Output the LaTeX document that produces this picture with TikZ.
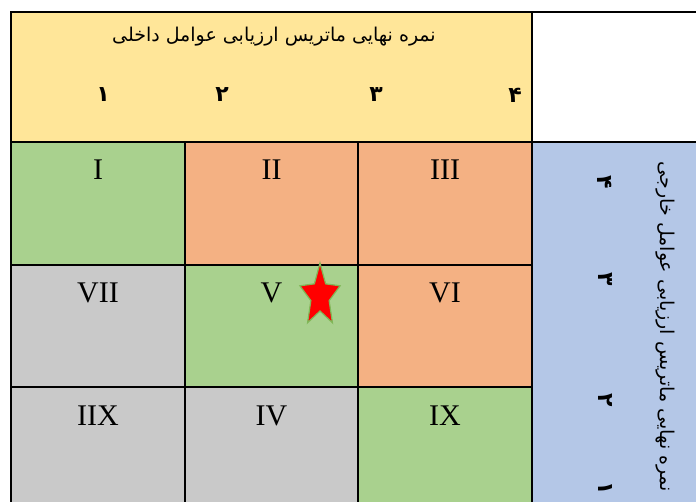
\documentclass[tikz,border=0pt]{standalone}
\usepackage{fontspec}
\setmainfont{Liberation Serif}
\newfontfamily\arabicfont[Script=Arabic]{DejaVu Sans}
\TeXXeTstate=1
\definecolor{cellgreen}{HTML}{A9D18E}
\definecolor{cellorange}{HTML}{F4B183}
\definecolor{cellgray}{HTML}{C9C9C9}
\definecolor{headyellow}{HTML}{FFE699}
\definecolor{sideblue}{HTML}{B4C7E7}
\definecolor{starline}{HTML}{7FB857}
\begin{document}
\begin{tikzpicture}[x=1pt,y=-1pt,
  cell/.style={draw=black,line width=2pt,inner sep=0pt},
  numeral/.style={font=\fontsize{30}{36}\selectfont,inner sep=0pt,anchor=base},
  persian/.style={font=\arabicfont\fontsize{19}{22}\selectfont,inner sep=0pt},
  digit/.style={font=\arabicfont\bfseries\fontsize{22}{26}\selectfont,inner sep=0pt}]
\useasboundingbox (0,0) rectangle (696,502);
% header and side column
\node[cell,fill=headyellow,minimum width=521pt,minimum height=130pt] (head) at (271.5,77) {};
\node[cell,fill=white,minimum width=172pt,minimum height=130pt] (corner) at (618,77) {};
\node[cell,fill=sideblue,minimum width=180pt,minimum height=378pt] (side) at (622,331) {};
% grid cells
\foreach \cname/\cx/\cy/\w/\h/\col in {
  I/98/203.5/174/123/cellgreen, II/271.5/203.5/173/123/cellorange, III/445/203.5/174/123/cellorange,
  VII/98/326/174/122/cellgray, V/271.5/326/173/122/cellgreen, VI/445/326/174/122/cellorange,
  IIX/98/453.5/174/133/cellgray, IV/271.5/453.5/173/133/cellgray, IX/445/453.5/174/133/cellgreen}{
  \node[cell,fill=\col,minimum width=\w pt,minimum height=\h pt] (cell\cname) at (\cx,\cy) {};
  \node[numeral] (num\cname) at ([yshift=-39pt]cell\cname.north) {\cname};
}
% texts
\node[persian] (headtitle) at (274,37) {\beginR نمره نهایی ماتریس ارزیابی عوامل داخلی\endR};
\node[digit] (hone) at (103,95) {۱};
\node[digit] (htwo) at (222,95) {۲};
\node[digit] (hthree) at (376,95) {۳};
\node[digit] (hfour) at (515,95) {۴};
\node[persian,rotate=-90] (sidetitle) at (665,327) {\beginR نمره نهایی ماتریس ارزیابی عوامل خارجی\endR};
\node[digit,rotate=-90] (sfour) at (605,182) {۴};
\node[digit,rotate=-90] (sthree) at (605,279) {۳};
\node[digit,rotate=-90] (stwo) at (605,400) {۲};
\node[digit,rotate=-90] (sone) at (605,488) {۱};
% star
\filldraw[fill=red,draw=starline,line width=1.2pt,shift={(320,296)},xscale=0.64]
  (-90:33) \foreach \k in {1,...,9}{ -- ({-90+36*\k}:{ifthenelse(isodd(\k),15,33)}) } -- cycle;
\end{tikzpicture}
\end{document}
